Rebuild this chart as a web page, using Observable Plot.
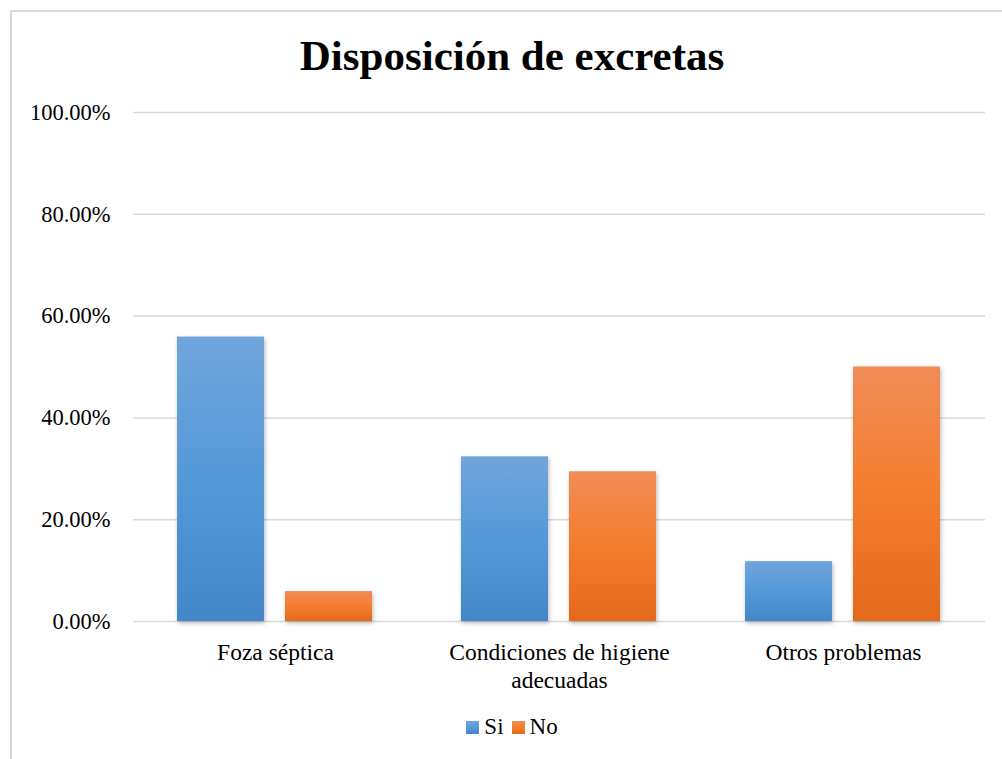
<!DOCTYPE html>
<html>
<head>
<meta charset="utf-8">
<script src="https://cdn.jsdelivr.net/npm/d3@7"></script>
<script src="https://cdn.jsdelivr.net/npm/@observablehq/plot@0.6"></script>
<style>
  html, body { margin: 0; padding: 0; background: #fff; }
  #wrap { position: relative; width: 1002px; height: 759px; overflow: hidden; font-family: "Liberation Serif", "Times New Roman", serif; color: #000; }
  #frame { position: absolute; left: 10px; top: 10px; width: 1010px; height: 800px; border: 2px solid #d9d9d9; box-sizing: border-box; }
  #title { position: absolute; left: 12px; width: 1000px; top: 34px; text-align: center; font-weight: bold; font-size: 43px; line-height: 43px; }
  #chart { position: absolute; left: 0; top: 90px; }
  #legend { position: absolute; left: 12px; width: 1000px; top: 715px; display: flex; justify-content: center; align-items: center; font-size: 23px; line-height: 24px; }
  .key { display: inline-flex; align-items: center; margin: 0 4px; }
  .sw { width: 13px; height: 13px; margin-right: 5px; }
</style>
</head>
<body>
<div id="wrap">
  <div id="frame"></div>
  <div id="title">Disposición de excretas</div>
  <div id="chart"></div>
  <div id="legend"></div>
</div>
<script>
// Categories, series and percentages (%)
const categories = ["Foza séptica", "Condiciones de higiene\nadecuadas", "Otros problemas"];
const seriesNames = ["Si", "No"];
const siValues = [55.88, 32.35, 11.76];
const noValues = [5.88, 29.41, 50.00];
const yTicks = [0, 20, 40, 60, 80, 100];

// Gradient stops (top, middle, bottom) for each series
const seriesGradients = {
  Si: ["#71a5dc", "#5499d8", "#4387c8"],
  No: ["#f18c57", "#f47d2d", "#e4691a"]
};

const rows = [];
categories.forEach((c, i) => {
  rows.push({category: c, series: "Si", value: siValues[i]});
  rows.push({category: c, series: "No", value: noValues[i]});
});

const gradId = s => "grad-" + s;

const chart = Plot.plot({
  width: 1002,
  height: 610,
  marginTop: 22,
  marginBottom: 79,
  marginLeft: 133,
  marginRight: 17,
  style: {fontFamily: '"Liberation Serif", "Times New Roman", serif', fontSize: "22px", color: "#000", background: "transparent"},
  fx: {domain: categories, padding: 0, label: null},
  x: {domain: seriesNames, paddingInner: 0.193, paddingOuter: 0.4, axis: null},
  y: {domain: [0, 100], label: null},
  color: {domain: seriesNames, range: seriesNames.map(s => `url(#${gradId(s)})`)},
  marks: [
    Plot.ruleY(yTicks, {stroke: "#d9d9d9", strokeWidth: 1.5}),
    Plot.barY(rows, {fx: "category", x: "series", y: "value", fill: "series"}),
    Plot.axisY(yTicks, {tickSize: 0, tickPadding: 23, fontSize: 22.5, label: null, tickFormat: d => d.toFixed(2) + "%"}),
    Plot.axisFx({anchor: "bottom", tickSize: 0, tickPadding: 19, fontSize: 23.5, lineHeight: 1.18, label: null})
  ]
});

// Vertical gradients for the bar fills
const svg = d3.select(chart);
const defs = svg.insert("defs", ":first-child");
seriesNames.forEach(s => {
  const g = defs.append("linearGradient").attr("id", gradId(s))
    .attr("x1", 0).attr("y1", 0).attr("x2", 0).attr("y2", 1);
  seriesGradients[s].forEach((col, k) => {
    g.append("stop").attr("offset", k / 2).attr("stop-color", col);
  });
});
// Soft shadow around each bar
svg.selectAll("g[aria-label='bar'] rect")
  .style("filter", "drop-shadow(1px 2px 2px rgba(0,0,0,0.28))");

document.getElementById("chart").appendChild(chart);

// Legend
const legend = d3.select("#legend");
seriesNames.forEach(s => {
  const k = legend.append("span").attr("class", "key");
  k.append("span").attr("class", "sw")
    .style("background", `linear-gradient(${seriesGradients[s].join(",")})`);
  k.append("span").text(s);
});
</script>
</body>
</html>
